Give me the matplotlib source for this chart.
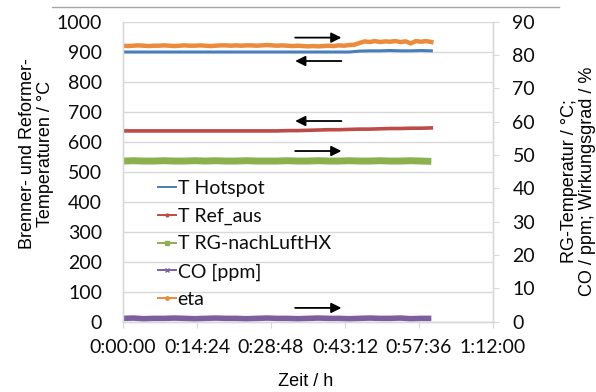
import matplotlib.pyplot as plt
from matplotlib.lines import Line2D

# Messzeit in Minuten (2-min-Raster bzw. 1-min-Raster fuer eta)
zeit_2min = [0, 2, 4, 6, 8, 10, 12, 14, 16, 18, 20, 22, 24, 26, 28, 30,
             32, 34, 36, 38, 40, 42, 44, 46, 48, 50, 52, 54, 56, 58, 60]
zeit_1min = [0, 1, 2, 3, 4, 5, 6, 7, 8, 9, 10, 11, 12, 13, 14, 15, 16, 17, 18, 19,
             20, 21, 22, 23, 24, 25, 26, 27, 28, 29, 30, 31, 32, 33, 34, 35, 36, 37, 38, 39,
             40, 41, 42, 43, 44, 45, 46, 47, 48, 49, 50, 51, 52, 53, 54, 55, 56, 57, 58, 59, 60]

# linke Achse: Brenner- und Reformertemperaturen in °C
t_hotspot = [899, 899, 899, 899, 899, 899, 899, 899, 899, 899, 899, 899, 899, 899, 899, 899,
             899, 899, 899, 899, 899, 899, 899, 902, 903, 903, 904, 903, 903, 904, 903]
t_ref_aus = [636, 636, 636, 636, 636, 636, 636, 636, 636, 636, 636, 636, 636, 636, 636, 636,
             637, 637, 638, 639, 640, 640, 641, 642, 642, 643, 644, 644, 645, 645, 646]

# rechte Achse: RG-Temperatur in °C, CO in ppm, Wirkungsgrad in %
t_rg_luft = [48.2, 48.3, 48.2, 48.2, 48.3, 48.2, 48.2, 48.3, 48.2, 48.3, 48.2, 48.2, 48.3, 48.2, 48.2, 48.2,
             48.3, 48.2, 48.2, 48.3, 48.2, 48.2, 48.3, 48.2, 48.2, 48.3, 48.2, 48.2, 48.3, 48.2, 48.1]
co_ppm = [1.0, 1.1, 0.9, 1.0, 1.0, 1.1, 1.0, 0.9, 1.0, 1.1, 1.0, 1.0, 0.9, 1.0, 1.1, 1.0,
          1.0, 0.9, 1.0, 1.1, 1.0, 1.0, 0.9, 1.0, 1.1, 1.0, 1.0, 1.1, 0.9, 1.0, 1.0]
eta = [82.8, 82.7, 82.8, 82.9, 82.8, 82.7, 82.8, 82.8, 82.9, 82.8, 82.7, 82.8, 82.9, 82.8, 82.8, 82.9,
       82.8, 82.7, 82.8, 82.9, 82.9, 82.8, 82.9, 82.8, 82.9, 82.9, 82.8, 82.9, 83.0, 82.9, 82.8, 82.9,
       82.8, 82.7, 82.8, 82.7, 82.6, 82.7, 82.6, 82.7, 82.8, 82.7, 82.9, 82.8, 83.0, 83.1,
       83.6, 84.1, 83.9, 84.2, 83.9, 84.1, 84.0, 84.2, 83.9, 84.1, 83.5, 84.2, 84.0, 84.2, 83.9]

x_ticks = [0, 14.4, 28.8, 43.2, 57.6, 72]
x_labels = ["0:00:00", "0:14:24", "0:28:48", "0:43:12", "0:57:36", "1:12:00"]

c_blau = "#4A7EBB"
c_rot = "#BE4B48"
c_gruen = "#8DB04E"
c_lila = "#7D5FA0"
c_orange = "#EB8B3E"
c_grid = "#D9D9D9"
c_text = "#0D0D0D"

tick_font = "Lato"
label_font = "Liberation Sans"

fig = plt.figure(figsize=(5.96, 3.92), dpi=100)
ax = fig.add_axes([0.2064, 0.1793, 0.6208, 0.7653])
ax2 = ax.twinx()

ax.plot(zeit_2min, t_hotspot, color=c_blau, lw=2.2, zorder=3)
ax.plot(zeit_2min, t_ref_aus, color=c_rot, lw=2.6, zorder=3)
ax2.plot(zeit_2min, t_rg_luft, color=c_gruen, lw=5.0, solid_capstyle="butt")
ax2.plot(zeit_2min, co_ppm, color=c_lila, lw=4.0, solid_capstyle="butt")
ax2.plot(zeit_1min, eta, color=c_orange, lw=3.2)

ax.set_xlim(0, 72)
ax.set_ylim(0, 1000)
ax.set_yticks(range(0, 1001, 100))
ax2.set_ylim(0, 90)
ax2.set_yticks(range(0, 91, 10))
ax.set_xticks(x_ticks)
ax.set_xticklabels(x_labels)

ax.grid(axis="y", color=c_grid, lw=1.0)
ax.set_axisbelow(True)

for a in (ax, ax2):
    for s in a.spines.values():
        s.set_color(c_grid)
        s.set_linewidth(1.0)
    a.spines["top"].set_visible(False)

ax.tick_params(axis="y", length=0, pad=15, labelsize=14)
ax.tick_params(axis="x", length=4.5, pad=8, color=c_grid, labelsize=14)
ax2.tick_params(axis="y", length=4, pad=10, color=c_grid, labelsize=14)
for lbl in ax.get_xticklabels() + ax.get_yticklabels() + ax2.get_yticklabels():
    lbl.set_fontfamily(tick_font)
    lbl.set_color(c_text)

# Pfeile zur Zuordnung der Kurven zu den Achsen (y in Einheiten der linken Achse)
pfeile = [(947, "r"), (869, "l"), (669, "l"), (569, "r"), (46, "r")]
for y, richtung in pfeile:
    a0, a1 = (33.5, 42.5) if richtung == "r" else (42.5, 33.5)
    ax.annotate("", xy=(a1, y), xytext=(a0, y),
                arrowprops=dict(arrowstyle="-|>", color="black", lw=1.3,
                                mutation_scale=15, shrinkA=0, shrinkB=0),
                zorder=5)

handles = [
    Line2D([], [], color=c_blau, lw=1.4),
    Line2D([], [], color=c_rot, lw=1.4, marker="o", ms=2),
    Line2D([], [], color=c_gruen, lw=1.4, marker="s", ms=2.5),
    Line2D([], [], color=c_lila, lw=1.4, marker="x", ms=3),
    Line2D([], [], color=c_orange, lw=1.4, marker="o", ms=2.5),
]
names = ["T Hotspot", "T Ref_aus", "T RG-nachLuftHX", "CO [ppm]", "eta"]
leg = ax2.legend(handles, names, loc="upper left", bbox_to_anchor=(0.095, 0.473),
                 frameon=False, borderpad=0, borderaxespad=0, handlelength=0.9,
                 handletextpad=0.1, labelspacing=0.55,
                 prop={"family": tick_font, "size": 14})
for t in leg.get_texts():
    t.set_color(c_text)

fig.text(36.5 / 596, 1 - 154 / 392, "Brenner- und Reformer-\nTemperaturen / °C",
         rotation=90, ha="center", va="center", multialignment="center",
         fontfamily=label_font, fontsize=13, linespacing=1.15)
fig.text(578.5 / 596, 1 - 181 / 392, "RG-Temperatur / °C;\nCO / ppm; Wirkungsgrad / %",
         rotation=90, ha="center", va="center", multialignment="center",
         fontfamily=label_font, fontsize=13, linespacing=1.15)
fig.text(306 / 596, 1 - 382 / 392, "Zeit / h", ha="center", va="center",
         fontfamily=label_font, fontsize=13)

# obere Rahmenlinie des Diagrammbereichs
fig.add_artist(Line2D([52 / 596, 559 / 596], [1 - 7.3 / 392, 1 - 7.3 / 392],
                      color="#A6A6A6", lw=1.0))

fig.savefig("out.png", dpi=100)
